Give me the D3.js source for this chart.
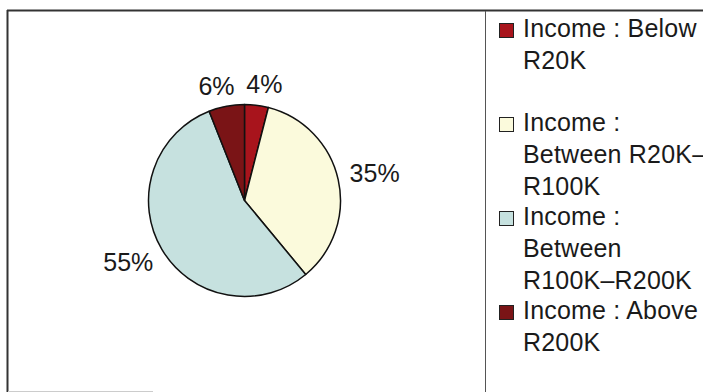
<!DOCTYPE html>
<html>
<head>
<meta charset="utf-8">
<script src="https://cdn.jsdelivr.net/npm/d3@7"></script>
<style>
  html, body { margin: 0; padding: 0; background: #fff; }
  svg { display: block; }
  text { font-family: "Liberation Sans", Arial, sans-serif; fill: #1a1a1a; }
</style>
</head>
<body>
<svg id="chart" width="703" height="392"></svg>
<script>
// Income bands, share of respondents (%)
const categories = [
  "Income : Below R20K",
  "Income : Between R20K–R100K",
  "Income : Between R100K–R200K",
  "Income : Above R200K"
];
const values = [4, 35, 55, 6];
const colors = ["#a8141c", "#fbfadc", "#c6e1df", "#7a1416"];
// Legend text, wrapped as drawn in the legend box
const legendLines = [
  ["Income : Below", "R20K"],
  ["Income :", "Between R20K–", "R100K"],
  ["Income :", "Between", "R100K–R200K"],
  ["Income : Above", "R200K"]
];

const svg = d3.select("#chart");

// Chart frame
svg.append("line").attr("x1", 7).attr("x2", 703).attr("y1", 10.5).attr("y2", 10.5)
  .attr("stroke", "#333").attr("stroke-width", 2);
svg.append("line").attr("x1", 7.5).attr("x2", 7.5).attr("y1", 10).attr("y2", 392)
  .attr("stroke", "#333").attr("stroke-width", 2);
svg.append("line").attr("x1", 8).attr("x2", 153).attr("y1", 391.5).attr("y2", 391.5)
  .attr("stroke", "#ccc").attr("stroke-width", 1);
// Legend box edge
svg.append("line").attr("x1", 485.5).attr("x2", 485.5).attr("y1", 11).attr("y2", 392)
  .attr("stroke", "#555").attr("stroke-width", 1);

// Pie
const cx = 244.5, cy = 200.5, r = 96;
const pie = d3.pie().sort(null).value(d => d);
const arcs = pie(values);
const arc = d3.arc().innerRadius(0).outerRadius(r);

const g = svg.append("g").attr("transform", `translate(${cx},${cy})`);
g.selectAll("path.slice")
  .data(arcs)
  .join("path")
  .attr("class", "slice")
  .attr("d", arc)
  .attr("fill", (d, i) => colors[i])
  .attr("stroke", "#111")
  .attr("stroke-width", 1.5)
  .attr("stroke-linejoin", "round");

// Percentage labels, pushed just outside each slice
const fmt = d => d3.format(".0f")(d) + "%";
const labelFont = 25;
const capHalf = 9;
g.selectAll("text.pct")
  .data(arcs)
  .join("text")
  .attr("class", "pct")
  .attr("font-size", labelFont)
  .attr("text-anchor", "middle")
  .attr("dominant-baseline", "central")
  .text(d => fmt(d.data))
  .each(function (d) {
    const a = (d.startAngle + d.endAngle) / 2;
    const dx = Math.sin(a), dy = -Math.cos(a);
    const w = this.getComputedTextLength();
    const gap = r + 12;
    const x = dx * gap + Math.sign(dx) * Math.sqrt(Math.abs(dx)) * w / 2;
    const y = dy * gap + Math.sign(dy) * Math.sqrt(Math.abs(dy)) * capHalf;
    d3.select(this).attr("x", x).attr("y", y);
  });

// Legend
const legend = svg.append("g");
const entryY = d3.scaleLinear().domain([0, 1]).range([37, 131]);
const lineStep = 32;
categories.forEach((c, i) => {
  const y0 = entryY(i);
  legend.append("rect")
    .attr("x", 499.5).attr("y", y0 - 13.5)
    .attr("width", 14).attr("height", 14)
    .attr("fill", colors[i])
    .attr("stroke", "#222").attr("stroke-width", 1);
  legendLines[i].forEach((t, j) => {
    legend.append("text")
      .attr("x", 523).attr("y", y0 + j * lineStep)
      .attr("font-size", 25)
      .attr("letter-spacing", 0.2)
      .text(t);
  });
});
</script>
</body>
</html>
